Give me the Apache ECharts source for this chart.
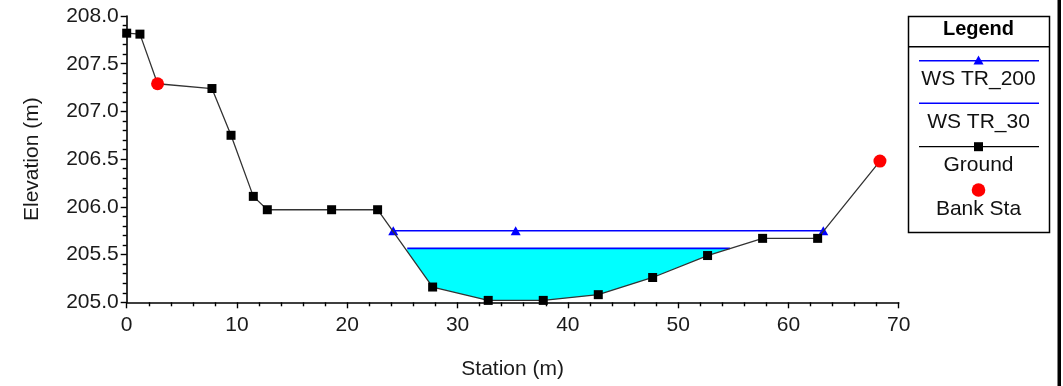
<!DOCTYPE html>
<html>
<head>
<meta charset="utf-8">
<script src="https://cdn.jsdelivr.net/npm/echarts@6/dist/echarts.min.js"></script>
<style>
html,body{margin:0;padding:0;background:#fff;}
#chart{width:1063px;height:386px;}
</style>
</head>
<body>
<div id="chart"></div>
<script>
// ---- data ----
const groundStation = [0, 1.2, 2.8, 7.73, 9.46, 11.48, 12.75, 18.58, 22.75, 27.74, 32.78, 37.77, 42.76, 47.69, 52.67, 57.66, 62.65, 68.3];
const groundElev    = [207.82, 207.81, 207.29, 207.24, 206.75, 206.11, 205.97, 205.97, 205.97, 205.16, 205.02, 205.02, 205.08, 205.26, 205.49, 205.67, 205.67, 206.48];
const bankStation = [2.8, 68.3];
const bankElev    = [207.29, 206.48];
const ws200Station = [24.17, 35.27, 63.16];
const ws200Elev    = [205.75, 205.75, 205.75];
const ws30Station = [25.44, 54.7];
const ws30Elev    = [205.565, 205.565];
const xTicks = [0, 10, 20, 30, 40, 50, 60, 70];
const yTicks = ['205.0', '205.5', '206.0', '206.5', '207.0', '207.5', '208.0'];
const legendItems = ['WS TR_200', 'WS TR_30', 'Ground', 'Bank Sta'];

const FONT = 'Liberation Sans, Arial, sans-serif';
const pair = (xs, ys) => xs.map((x, i) => [x, ys[i]]);

const groundData = groundStation.map((x, i) => ({
  value: [x, groundElev[i]],
  symbol: bankStation.includes(x) ? 'none' : 'rect'
}));

const chart = echarts.init(document.getElementById('chart'), null, {renderer: 'canvas'});

const lx = 978.5;
const option = {
  animation: false,
  backgroundColor: '#fff',
  grid: {left: 126.7, right: 164.3, top: 16, bottom: 83.7, containLabel: false, outerBoundsMode: 'none'},
  xAxis: {
    type: 'value', min: xTicks[0], max: xTicks[xTicks.length - 1], interval: 10,
    z: 10,
    name: 'Station (m)', nameLocation: 'middle', nameGap: 56,
    nameTextStyle: {fontFamily: FONT, fontSize: 21, color: '#1a1a1a'},
    axisLine: {show: true, lineStyle: {color: '#000', width: 1.6}},
    axisTick: {show: true, length: 6, lineStyle: {color: '#000', width: 1.4}},
    minorTick: {show: true, splitNumber: 5, length: 4, lineStyle: {color: '#000', width: 1.4}},
    splitLine: {show: false},
    axisLabel: {fontFamily: FONT, fontSize: 21, color: '#1a1a1a', margin: 12}
  },
  yAxis: {
    type: 'value', min: 205, max: 208, interval: 0.5,
    z: 10,
    name: 'Elevation (m)', nameLocation: 'middle', nameGap: 84,
    nameTextStyle: {fontFamily: FONT, fontSize: 21, color: '#1a1a1a'},
    axisLine: {show: true, lineStyle: {color: '#000', width: 1.6}},
    axisTick: {show: true, length: 6, lineStyle: {color: '#000', width: 1.4}},
    minorTick: {show: true, splitNumber: 5, length: 4, lineStyle: {color: '#000', width: 1.4}},
    splitLine: {show: false},
    axisLabel: {fontFamily: FONT, fontSize: 21, color: '#1a1a1a', margin: 8,
      formatter: v => yTicks.find(t => Math.abs(parseFloat(t) - v) < 1e-6) || v.toFixed(1)}
  },
  series: [
    { // water fill WS TR_30
      type: 'line', name: 'WS TR_30 fill', data: pair(ws30Station, ws30Elev),
      showSymbol: false, z: 2,
      lineStyle: {width: 0},
      areaStyle: {color: '#00FFFF', opacity: 1, origin: 'start'}
    },
    { // white mask under ground
      type: 'line', name: 'ground mask', data: pair(groundStation, groundElev),
      showSymbol: false, z: 3,
      lineStyle: {width: 0},
      areaStyle: {color: '#ffffff', opacity: 1, origin: 'start'}
    },
    {
      type: 'line', name: 'WS TR_30', data: pair(ws30Station, ws30Elev),
      showSymbol: false, z: 4,
      lineStyle: {color: '#0000FF', width: 1.6}
    },
    {
      type: 'line', name: 'WS TR_200', data: pair(ws200Station, ws200Elev),
      symbol: 'triangle', symbolSize: [10, 9], z: 5,
      itemStyle: {color: '#0000FF'},
      lineStyle: {color: '#0000FF', width: 1.6}
    },
    {
      type: 'line', name: 'Ground', data: groundData,
      symbol: 'rect', symbolSize: 9, z: 6,
      itemStyle: {color: '#000'},
      lineStyle: {color: '#333', width: 1.3}
    },
    {
      type: 'scatter', name: 'Bank Sta', data: pair(bankStation, bankElev),
      symbol: 'circle', symbolSize: 13, z: 7,
      itemStyle: {color: '#FF0000', opacity: 1}
    }
  ],
  graphic: [
    {type: 'rect', shape: {x: 908.5, y: 16.5, width: 141, height: 216}, style: {fill: '#fff', stroke: '#000', lineWidth: 1.5}, z: 100},
    {type: 'line', shape: {x1: 908.5, y1: 46.7, x2: 1049.5, y2: 46.7}, style: {stroke: '#000', lineWidth: 1.5}, z: 101},
    {type: 'text', x: lx, y: 29, style: {text: 'Legend', font: 'bold 20px ' + FONT, fill: '#000', textAlign: 'center', textVerticalAlign: 'middle'}, z: 101},
    {type: 'line', shape: {x1: 919, y1: 60.7, x2: 1039, y2: 60.7}, style: {stroke: '#0000FF', lineWidth: 1.5}, z: 101},
    {type: 'polygon', shape: {points: [[lx - 5, 64.5], [lx + 5, 64.5], [lx, 55.5]]}, style: {fill: '#0000FF'}, z: 102},
    {type: 'text', x: lx, y: 79, style: {text: legendItems[0], font: '21px ' + FONT, fill: '#111', textAlign: 'center', textVerticalAlign: 'middle'}, z: 101},
    {type: 'line', shape: {x1: 919, y1: 103.3, x2: 1039, y2: 103.3}, style: {stroke: '#0000FF', lineWidth: 1.5}, z: 101},
    {type: 'text', x: lx, y: 122, style: {text: legendItems[1], font: '21px ' + FONT, fill: '#111', textAlign: 'center', textVerticalAlign: 'middle'}, z: 101},
    {type: 'line', shape: {x1: 919, y1: 146.7, x2: 1039, y2: 146.7}, style: {stroke: '#000', lineWidth: 1.2}, z: 101},
    {type: 'rect', shape: {x: lx - 4.5, y: 142.2, width: 9, height: 9}, style: {fill: '#000'}, z: 102},
    {type: 'text', x: lx, y: 165.5, style: {text: legendItems[2], font: '21px ' + FONT, fill: '#111', textAlign: 'center', textVerticalAlign: 'middle'}, z: 101},
    {type: 'circle', shape: {cx: lx, cy: 190, r: 6.8}, style: {fill: '#FF0000'}, z: 101},
    {type: 'text', x: lx, y: 209, style: {text: legendItems[3], font: '21px ' + FONT, fill: '#111', textAlign: 'center', textVerticalAlign: 'middle'}, z: 101},
    {type: 'rect', shape: {x: 1057.5, y: 0, width: 3.5, height: 386}, style: {fill: '#000'}, z: 101}
  ]
};
chart.setOption(option);
</script>
</body>
</html>
